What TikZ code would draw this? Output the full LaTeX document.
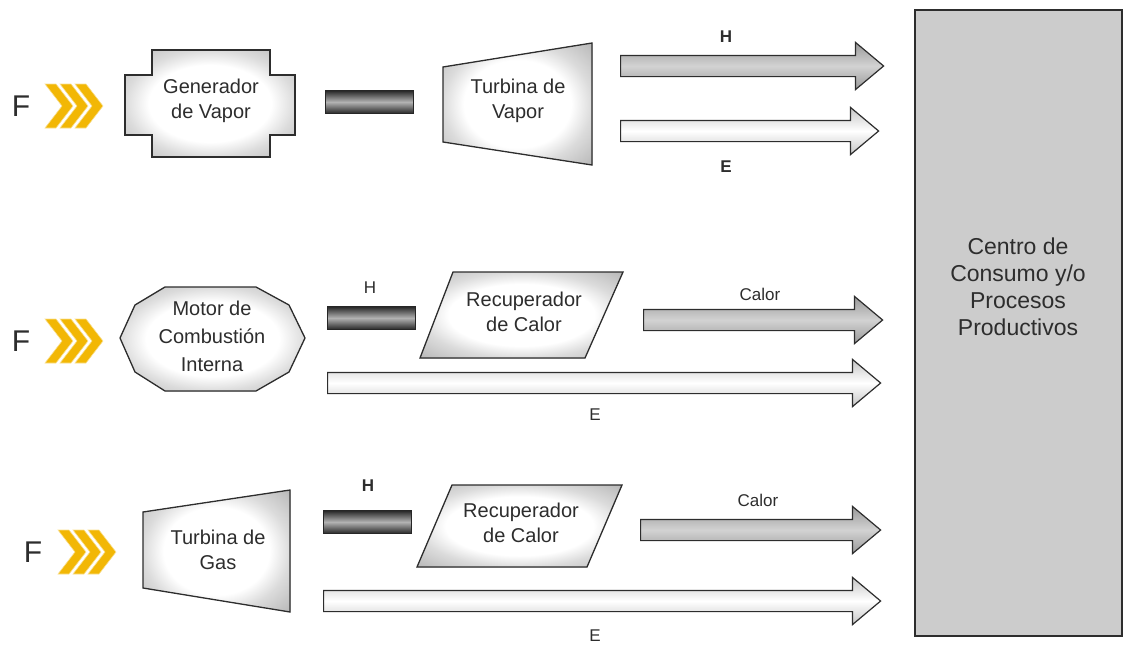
\documentclass[tikz,border=0pt]{standalone}
\usepackage{fontspec}
\setmainfont{Liberation Sans}
\usepackage{tikz}
\usetikzlibrary{shapes.arrows,positioning}
\definecolor{fuelcol}{RGB}{242,183,5}
\definecolor{inkcol}{RGB}{45,45,45}
\pgfdeclareradialshading{bevel}{\pgfpoint{0bp}{0bp}}{color(0bp)=(white); color(18bp)=(white);
	color(25bp)=(gray!28); color(35bp)=(gray!55); color(50bp)=(gray!55)}
\tikzset{
	every unit/.style={
		draw=inkcol,
		line width=1.3pt,
		shading=bevel
	},
	unit text/.style={
		align=center,
		text=inkcol,
		font=\fontsize{20}{25}\selectfont
	},
	link bar/.style={
		rectangle,
		draw=black!85,
		line width=1pt,
		minimum width=88pt,
		minimum height=23pt,
		inner sep=0pt,
		top color=black!85,
		bottom color=black!85,
		middle color=gray!60
	},
	flow/.style={
		single arrow,
		draw=inkcol,
		line width=1.2pt,
		inner xsep=0pt,
		inner ysep=10pt,
		single arrow head extend=13pt,
		single arrow tip angle=80,
		anchor=tail
	},
	flow hot/.style={flow, top color=gray!80, bottom color=gray!80, middle color=gray!35},
	flow power/.style={flow, top color=gray!45, bottom color=gray!45, middle color=white},
	flow label/.style={text=inkcol, font=\fontsize{17}{20}\selectfont},
	fuel letter/.style={text=inkcol, font=\fontsize{30}{36}\selectfont},
	fuel/.pic={
		\foreach \k in {0,15,30}
			\filldraw[fill=fuelcol, draw=fuelcol!45!white, line width=0.6pt]
				(\k,-22) -- ++(11,0) -- ++(17,22) -- ++(-17,22) -- ++(-11,0) -- ++(17,-22) -- cycle;
	},
}

\begin{document}
\begin{tikzpicture}[x=1pt, y=-1pt]

\useasboundingbox (0,0) rectangle (1123,645);

\node [rectangle, draw=inkcol, line width=1.5pt, fill=gray!40, minimum width=207pt,
	minimum height=626pt, anchor=north west] (centro) at (914,9) {};
\node [unit text, font=\fontsize{23}{27}\selectfont] (centro-txt) at (1018,287)
	{Centro de\\Consumo y/o\\Procesos\\Productivos};

\node [fuel letter] (f-1) at (21,106) {F};
\pic (fuel-1) at (45,106) {fuel};
\filldraw [every unit] (125,75) -- (152,75) -- (152,50) -- (270,50) -- (270,75) -- (295,75)
	-- (295,135) -- (270,135) -- (270,157) -- (152,157) -- (152,135) -- (125,135) -- cycle;
\node [unit text] (generador) at (211,101) {Generador\\de Vapor};
\node [link bar] (bar-1) at (369,102) {};
\filldraw [every unit] (443,67) -- (592,43) -- (592,165) -- (443,142) -- cycle;
\node [unit text] (turbina-vapor) at (518,101) {Turbina de\\Vapor};
\node [flow hot, minimum height=263pt] (flow-h1) at (620,66) {};
\node [flow label, font=\bfseries\fontsize{17}{20}\selectfont] (lbl-h1) at (726,37) {H};
\node [flow power, minimum height=258pt] (flow-e1) at (620,131) {};
\node [flow label, font=\bfseries\fontsize{17}{20}\selectfont] (lbl-e1) at (726,167) {E};

\node [fuel letter] (f-2) at (21,341) {F};
\pic (fuel-2) at (45,341) {fuel};
\filldraw [every unit] (120,338) -- (135,305) -- (165,287) -- (256,287) -- (289,305) -- (305,338)
	-- (289,372) -- (256,391) -- (165,391) -- (135,372) -- cycle;
\node [unit text, font=\fontsize{20}{28}\selectfont] (motor) at (212,336) {Motor de\\Combustión\\Interna};
\node [link bar] (bar-2) at (371,318) {};
\node [flow label] (lbl-h2) at (370,288) {H};
\filldraw [every unit] (453,272) -- (623,272) -- (585,358) -- (420,358) -- cycle;
\node [unit text] (recuperador-2) at (524,312) {Recuperador\\de Calor};
\node [flow hot, minimum height=239pt] (flow-c2) at (643,320) {};
\node [flow label] (lbl-c2) at (760,294) {Calor};
\node [flow power, minimum height=553pt] (flow-e2) at (327,383) {};
\node [flow label] (lbl-e2) at (595,415) {E};

\node [fuel letter] (f-3) at (33,552) {F};
\pic (fuel-3) at (58,552) {fuel};
\filldraw [every unit] (143,512) -- (290,490) -- (290,612) -- (143,588) -- cycle;
\node [unit text] (turbina-gas) at (218,550) {Turbina de\\Gas};
\node [link bar] (bar-3) at (367,522) {};
\node [flow label, font=\bfseries\fontsize{17}{20}\selectfont] (lbl-h3) at (368,486) {H};
\filldraw [every unit] (452,485) -- (622,485) -- (587,567) -- (417,567) -- cycle;
\node [unit text] (recuperador-3) at (521,523) {Recuperador\\de Calor};
\node [flow hot, minimum height=240pt] (flow-c3) at (640,530) {};
\node [flow label] (lbl-c3) at (758,500) {Calor};
\node [flow power, minimum height=557pt] (flow-e3) at (323,601) {};
\node [flow label] (lbl-e3) at (595,636) {E};

\end{tikzpicture}
\end{document}
